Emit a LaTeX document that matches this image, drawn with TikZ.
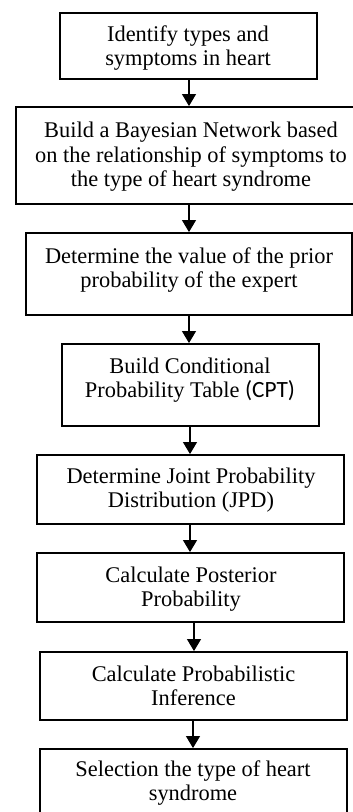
\documentclass[tikz,border=0pt]{standalone}
\usepackage{fontspec}
\setmainfont{Liberation Serif}
\newfontfamily\calfont[Scale=1.04]{Carlito}
\usetikzlibrary{arrows.meta}
\begin{document}
\begin{tikzpicture}[x=1pt,y=-1pt,
  box/.style={draw,line width=1.7pt,inner sep=0pt},
  txt/.style={align=center,inner sep=0pt,font=\fontsize{22.4}{24.5}\selectfont},
  arr/.style={line width=2.4pt,-{Triangle[width=13.5pt,length=12pt]}}]
\useasboundingbox (0,0) rectangle (353,812);
\clip (0,0) rectangle (353,812);
% boxes
\node[box,minimum width=257pt,minimum height=66pt] (b1) at (188.5,46) {};
\node[box,minimum width=339pt,minimum height=97pt] (b2) at (185.5,155.5) {};
\node[box,minimum width=326pt,minimum height=82pt] (b3) at (189,274) {};
\node[box,minimum width=257pt,minimum height=82pt] (b4) at (190.5,385) {};
\node[box,minimum width=307pt,minimum height=69pt] (b5) at (190.5,489.5) {};
\node[box,minimum width=307pt,minimum height=69pt] (b6) at (190.5,587.5) {};
\node[box,minimum width=307pt,minimum height=68pt] (b7) at (193.5,686) {};
\node[box,minimum width=307pt,minimum height=66pt] (b8) at (193.5,782) {};
% texts
\node[txt] (t1) at (188,48) {Identify types and\\symptoms in heart};
\node[txt] (t2) at (191,157) {Build a Bayesian Network based\\on the relationship of symptoms to\\the type of heart syndrome};
\node[txt] (t3) at (189,270) {Determine the value of the prior\\probability of the expert};
\node[txt] (t4) at (190,380) {Build Conditional\\Probability Table {\calfont(CPT)}};
\node[txt] (t5) at (191,490) {Determine Joint Probability\\Distribution (JPD)};
\node[txt] (t6) at (191,589) {Calculate Posterior\\Probability};
\node[txt] (t7) at (193.5,686) {Calculate Probabilistic\\Inference};
\node[txt] (t8) at (193,783) {Selection the type of heart\\syndrome};
% arrow columns
\coordinate (a1) at (189,0);
\coordinate (a4) at (190,0);
\coordinate (a6) at (194,0);
\coordinate (a7) at (193,0);
\draw[arr] (b1.south -| a1) -- (b2.north -| a1);
\draw[arr] (b2.south -| a1) -- (b3.north -| a1);
\draw[arr] (b3.south -| a1) -- (b4.north -| a1);
\draw[arr] (b4.south -| a4) -- (b5.north -| a4);
\draw[arr] (b5.south -| a4) -- (b6.north -| a4);
\draw[arr] (b6.south -| a6) -- (b7.north -| a6);
\draw[arr] (b7.south -| a7) -- (b8.north -| a7);
\end{tikzpicture}
\end{document}
